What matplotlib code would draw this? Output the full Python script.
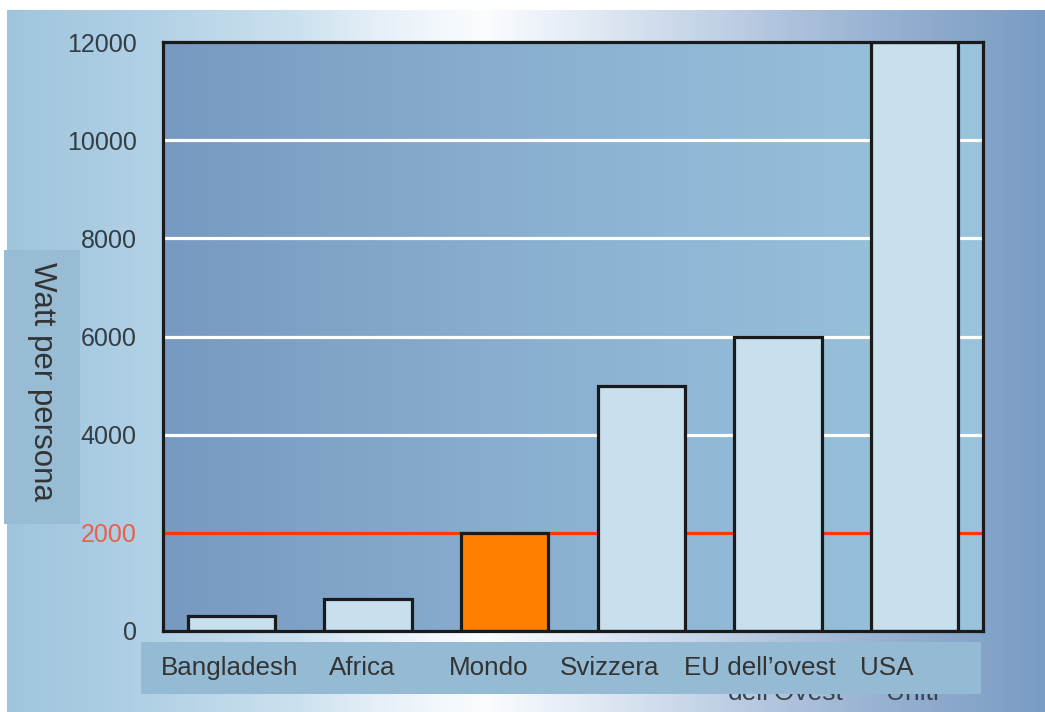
import numpy as np
import matplotlib.pyplot as plt
from matplotlib.colors import LinearSegmentedColormap
from matplotlib.patches import Rectangle

# Data
countries = ['Bangladesh', 'Africa', 'Mondo', 'Svizzera', 'EU dell\u2019ovest', 'USA']
watts = [300, 650, 2000, 5000, 6000, 12000]
yticks = [0, 2000, 4000, 6000, 8000, 10000, 12000]
world_avg = 2000

W, H = 1045, 712
fig = plt.figure(figsize=(W / 100, H / 100), dpi=100, facecolor='white')

# outer gradient background
bg_cmap = LinearSegmentedColormap.from_list('bg', [
    (0.00, '#9fc5dd'), (0.13, '#b0d0e5'), (0.28, '#cce1ef'), (0.36, '#e6f0f8'),
    (0.46, '#fbfdff'), (0.57, '#dfe8f3'), (0.67, '#c5d4e8'), (0.77, '#aabfda'),
    (0.86, '#94afd0'), (1.00, '#7a9cc4')])
bg = fig.add_axes([7 / W, 0, 1 - 7 / W, 1 - 10 / H], zorder=-5)
bg.imshow(np.linspace(0, 1, 512)[None, :], cmap=bg_cmap, aspect='auto',
          extent=[0, 1, 0, 1])
bg.set_axis_off()

# main axes
ax = fig.add_axes([163 / W, (H - 631) / H, 820 / W, 589 / H], zorder=1)
ax_cmap = LinearSegmentedColormap.from_list('ax', ['#7899c1', '#8cb2d2', '#9ac4dd'])
ax.imshow(np.linspace(0, 1, 256)[None, :], cmap=ax_cmap, aspect='auto',
          extent=[0, 1, 0, 1], transform=ax.transAxes, zorder=0)

x = np.arange(len(countries))
colors = ['#c8dfee'] * len(countries)
colors[countries.index('Mondo')] = '#ff7f00'
ax.bar(x, watts, width=0.64, color=colors, edgecolor='#1a1a1a',
       linewidth=2.3, zorder=3)

ax.axhline(world_avg, color='#f53b0a', linewidth=2.3, zorder=2)

ax.set_xlim(-0.5, 5.5)
ax.set_ylim(0, 12000)
ax.set_yticks(yticks)
ax.set_xticks([])
ax.yaxis.grid(True, color='white', linewidth=2.3, zorder=1)
ax.set_axisbelow(False)
for gl, v in zip(ax.get_ygridlines(), yticks):
    gl.set_zorder(1)
    if v in (0, world_avg, 12000):
        gl.set_visible(False)
ax.tick_params(axis='y', length=0, pad=19, labelsize=18, labelcolor='#333d44')
for lab in ax.get_yticklabels():
    lab.set_family('Liberation Sans')
ax.get_yticklabels()[yticks.index(world_avg)].set_color('#e8604a')
for s in ax.spines.values():
    s.set_linewidth(2.3)
    s.set_color('#1a1a1a')
    s.set_zorder(4)

# y label box
fig.add_artist(Rectangle((4 / W, (H - 524) / H), 76 / W, 274 / H,
                         transform=fig.transFigure, facecolor='#98bcd4',
                         edgecolor='none', zorder=2))
fig.text(42 / W, (H - 381) / H, 'Watt per persona', rotation=270,
         ha='center', va='center', fontsize=22.5, color='#333333',
         family='Liberation Sans', zorder=3)

# ghost text peeking under the label box
for gx, gt in [(728, 'dell\u2019Ovest'), (886, 'Uniti')]:
    fig.text(gx / W, (H - 700) / H, gt, ha='left', va='baseline',
             fontsize=19, color='#3a4450', family='Liberation Sans', zorder=1.5)

# category label box
fig.add_artist(Rectangle((141 / W, (H - 694) / H), 840 / W, 52 / H,
                         transform=fig.transFigure, facecolor='#94bbd3',
                         edgecolor='none', zorder=2))
label_x = [161, 329, 449, 560, 684, 860]
for lx, name in zip(label_x, countries):
    fig.text(lx / W, (H - 675) / H, name, ha='left', va='baseline',
             fontsize=18.7, color='#333333', family='Liberation Sans', zorder=3)

plt.savefig('out.png', dpi=100)
